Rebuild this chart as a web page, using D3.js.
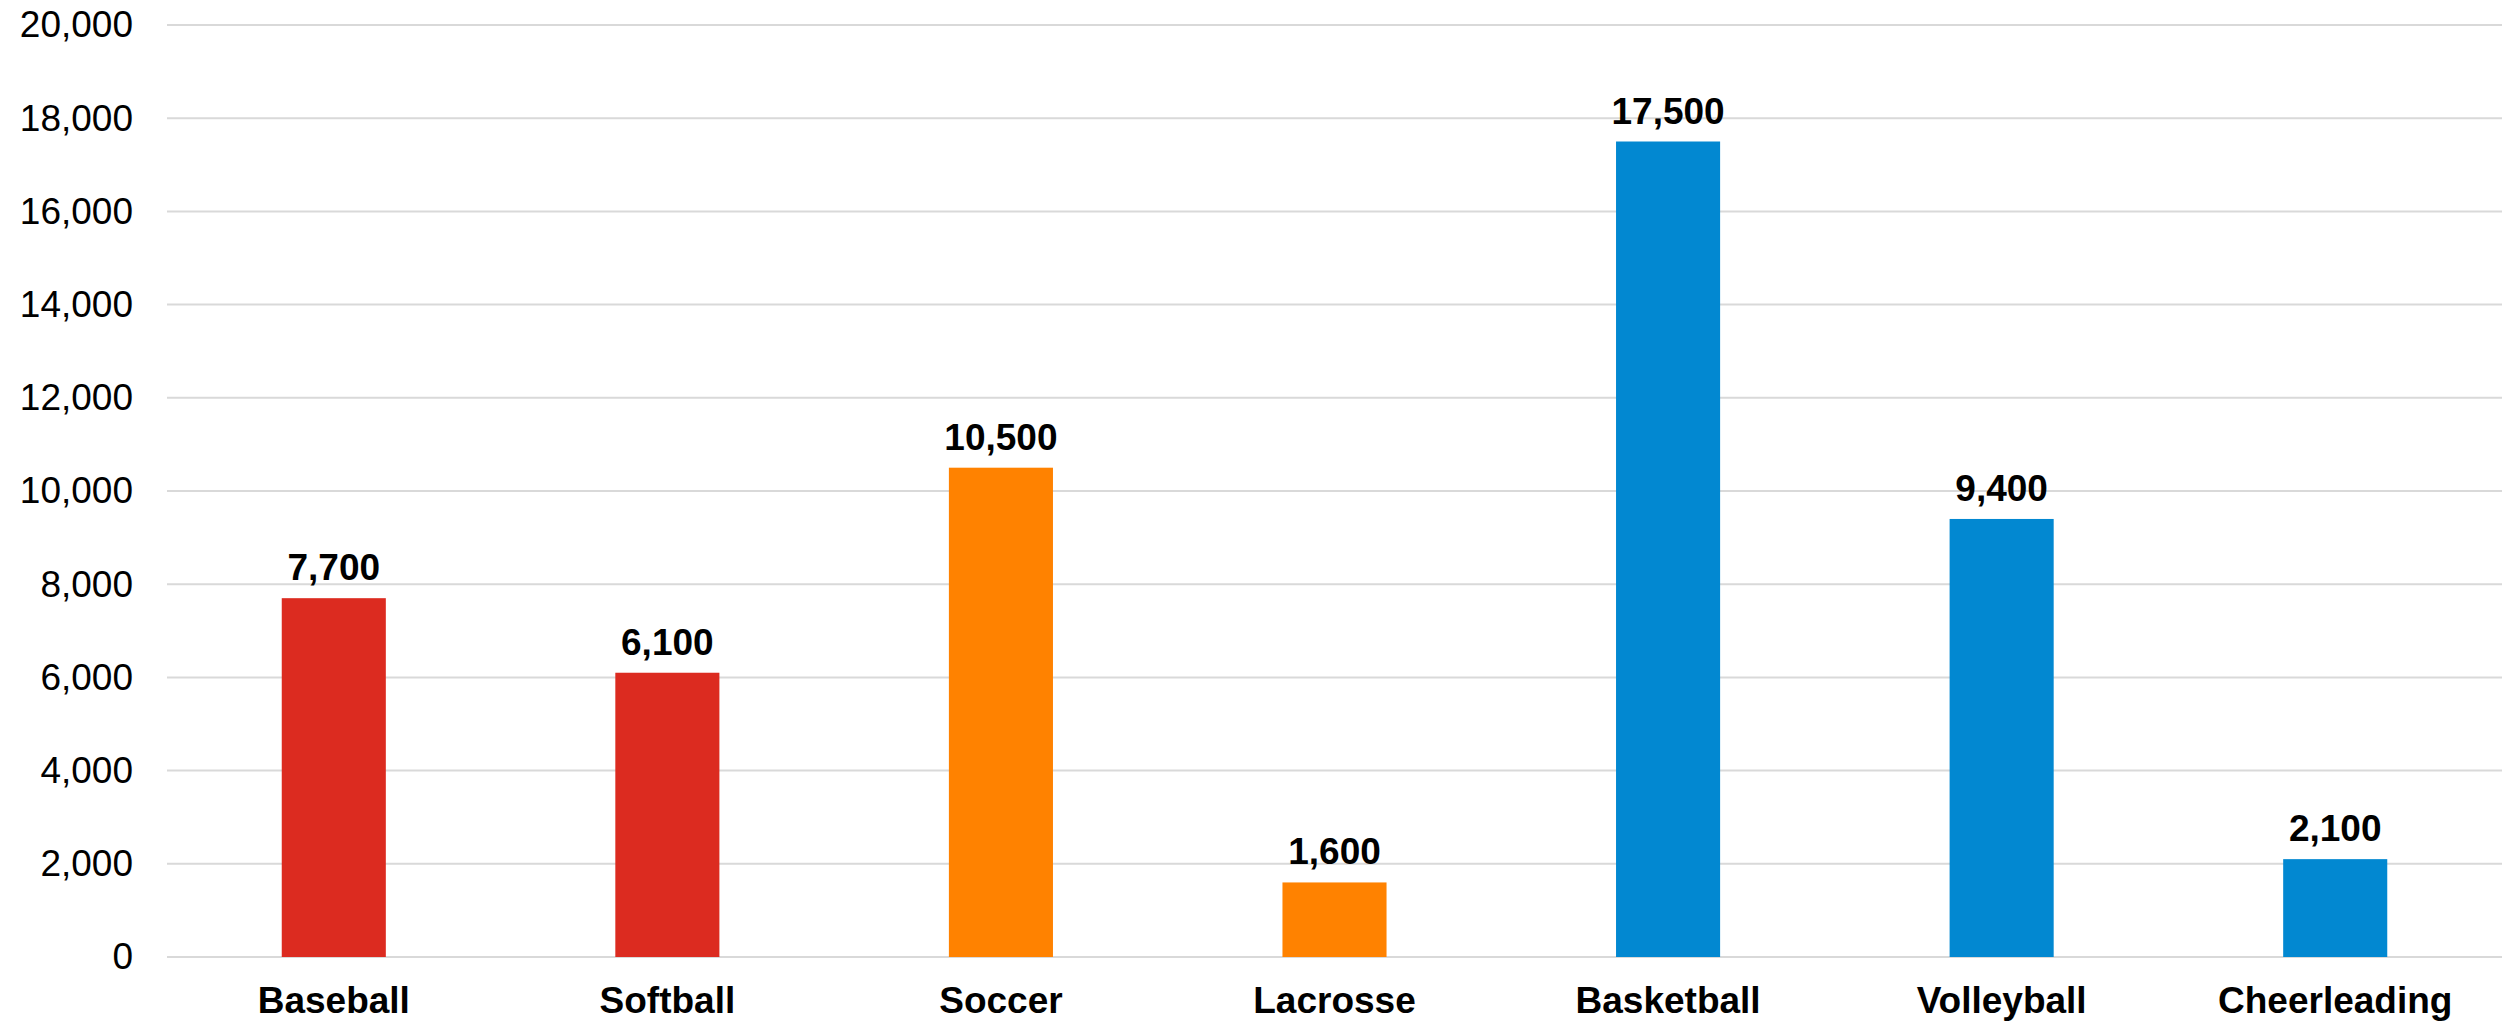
<!DOCTYPE html>
<html>
<head>
<meta charset="utf-8">
<script src="https://cdn.jsdelivr.net/npm/d3@7"></script>
<style>
  html, body { margin: 0; padding: 0; background: #fff; }
  svg { display: block; }
</style>
</head>
<body>
<svg id="chart" width="2514" height="1022"></svg>
<script>
const categories = ["Baseball", "Softball", "Soccer", "Lacrosse", "Basketball", "Volleyball", "Cheerleading"];
const values = [7700, 6100, 10500, 1600, 17500, 9400, 2100];
const groups = ["red", "red", "orange", "orange", "blue", "blue", "blue"];
const yTicks = [0, 2000, 4000, 6000, 8000, 10000, 12000, 14000, 16000, 18000, 20000];

const colorMap = { red: "#DC2B20", orange: "#FF8200", blue: "#0288D1" };

(function () {
const svg = d3.select("#chart");
const mLeft = 167, mRight = 2502, mTop = 25, mBottom = 957;

const x = d3.scaleBand().domain(categories).range([mLeft, mRight]).paddingInner(0.688).paddingOuter(0.344);
const y = d3.scaleLinear().domain([0, 20000]).range([mBottom, mTop]);
const fmt = d3.format(",");

// gridlines
svg.append("g").selectAll("line").data(yTicks).join("line")
  .attr("x1", mLeft).attr("x2", mRight)
  .attr("y1", d => y(d)).attr("y2", d => y(d))
  .attr("stroke", "#d9d9d9").attr("stroke-width", 2);

// y axis labels
const yAxis = d3.axisLeft(y).tickValues(yTicks).tickFormat(fmt).tickSize(0).tickPadding(34);
const gy = svg.append("g").attr("transform", `translate(${mLeft},0)`).call(yAxis);
gy.select(".domain").remove();
gy.selectAll("text").attr("font-family", "Liberation Sans, Arial, sans-serif")
  .attr("font-size", 37).attr("fill", "#000");

// bars
const data = categories.map((c, i) => ({ c, v: values[i], g: groups[i] }));
svg.append("g").selectAll("rect").data(data).join("rect")
  .attr("x", d => x(d.c)).attr("width", x.bandwidth())
  .attr("y", d => y(d.v)).attr("height", d => y(0) - y(d.v))
  .attr("fill", d => colorMap[d.g]);

// value labels
svg.append("g").selectAll("text").data(data).join("text")
  .attr("x", d => x(d.c) + x.bandwidth() / 2)
  .attr("y", d => y(d.v) - 18)
  .attr("text-anchor", "middle")
  .attr("font-family", "Liberation Sans, Arial, sans-serif")
  .attr("font-weight", "bold").attr("font-size", 37).attr("fill", "#000")
  .text(d => fmt(d.v));

// x axis labels
const xAxis = d3.axisBottom(x).tickSize(0).tickPadding(0);
const gx = svg.append("g").attr("transform", `translate(0,${mBottom})`).call(xAxis);
gx.select(".domain").remove();
gx.selectAll("text").attr("dy", null).attr("y", 56)
  .attr("font-family", "Liberation Sans, Arial, sans-serif")
  .attr("font-weight", "bold").attr("font-size", 37).attr("fill", "#000");
})();
</script>
</body>
</html>
